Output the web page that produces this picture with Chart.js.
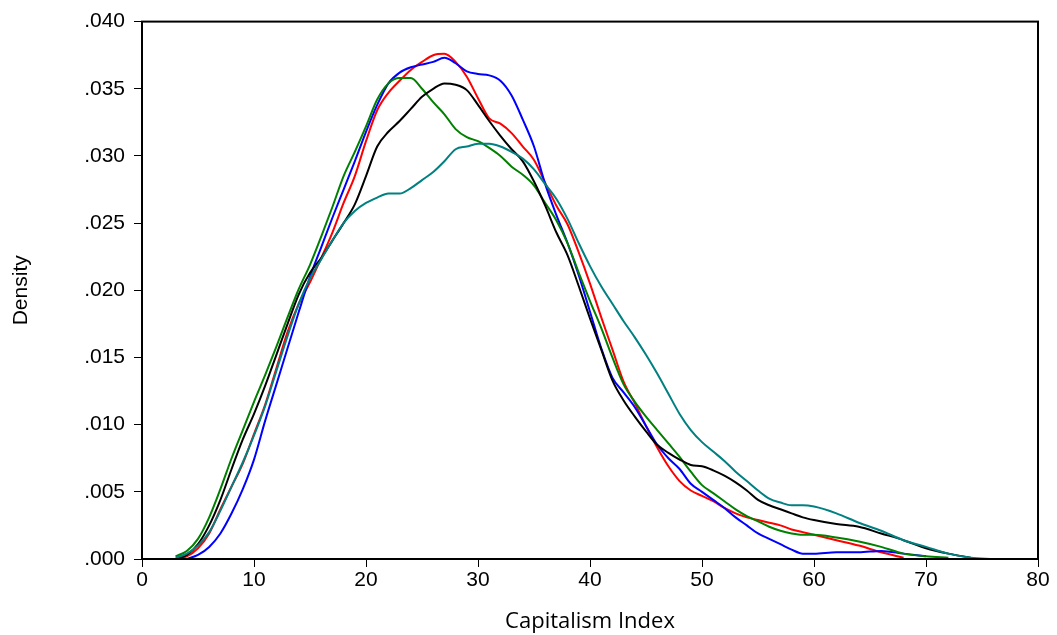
<!DOCTYPE html>
<html>
<head>
<meta charset="utf-8">
<script src="https://cdn.jsdelivr.net/npm/chart.js@4"></script>
<style>
  html, body { margin: 0; padding: 0; background: #fff; }
  #wrap { width: 1057px; height: 635px; position: relative; }
</style>
</head>
<body>
<div id="wrap"><canvas id="chart"></canvas></div>
<script>
// x grid of the density estimates (Capitalism Index)
const xValues = [2,3,4,5,6,7,8,9,10,11,12,13,14,15,16,17,18,19,20,21,22,23,24,25,26,27,28,29,30,
  31,32,33,34,35,36,37,38,39,40,41,42,43,44,45,46,47,48,49,50,51,52,53,54,55,56,57,58,59,60,
  62,64,66,68,70,72,74,76];

const blackSeries = [null,0.0000,0.0003,0.0011,0.0025,0.0044,0.0067,0.0089,0.0108,0.0129,0.0152,0.0175,0.0197,0.0213,
  0.0224,0.0237,0.0250,0.0264,0.0285,0.0307,0.0318,0.0326,0.0335,0.0344,0.0350,0.0354,0.0353,0.0349,0.0338,
  0.0326,0.0315,0.0305,0.0296,0.0281,0.0263,0.0243,0.0226,0.0203,0.0179,0.0156,0.0133,0.0118,0.0106,0.0095,
  0.0085,0.0079,0.0074,0.0070,0.0069,0.0066,0.0062,0.0057,0.0051,0.0044,0.0040,0.0037,0.0034,0.0031,0.0029,
  0.0026,0.0024,0.0019,0.0014,0.0008,0.0004,0.0001,null];

const blueSeries = [null,null,0.0000,0.0003,0.0009,0.0019,0.0034,0.0052,0.0074,0.0103,0.0130,0.0157,0.0184,0.0210,
  0.0232,0.0254,0.0275,0.0296,0.0318,0.0338,0.0354,0.0362,0.0366,0.0368,0.0370,0.0373,0.0369,0.0363,0.0361,
  0.0360,0.0356,0.0345,0.0327,0.0307,0.0279,0.0256,0.0235,0.0211,0.0184,0.0157,0.0135,0.0124,0.0113,0.0099,
  0.0085,0.0075,0.0067,0.0056,0.0050,0.0044,0.0038,0.0031,0.0025,0.0019,0.0015,0.0011,0.0007,0.0004,0.0004,
  0.0005,0.0005,0.0006,0.0004,0.0002,null,null,null];

const redSeries = [null,0.0000,0.0002,0.0008,0.0019,0.0037,0.0054,0.0071,0.0093,0.0115,0.0142,0.0169,0.0190,0.0206,
  0.0224,0.0243,0.0265,0.0285,0.0311,0.0334,0.0347,0.0356,0.0364,0.0370,0.0375,0.0376,0.0370,0.0359,0.0343,
  0.0328,0.0324,0.0317,0.0307,0.0297,0.0280,0.0263,0.0249,0.0228,0.0205,0.0180,0.0156,0.0132,0.0116,0.0099,
  0.0083,0.0069,0.0058,0.0051,0.0047,0.0043,0.0038,0.0034,0.0031,0.0029,0.0027,0.0025,0.0022,0.0020,0.0018,
  0.0014,0.0010,0.0005,0.0001,null,null,null,null];

const greenSeries = [null,0.0002,0.0006,0.0015,0.0031,0.0052,0.0075,0.0096,0.0117,0.0137,0.0158,0.0180,0.0201,0.0219,
  0.0240,0.0262,0.0285,0.0303,0.0322,0.0342,0.0354,0.0358,0.0358,0.0350,0.0340,0.0331,0.0320,0.0314,0.0311,
  0.0306,0.0300,0.0292,0.0286,0.0278,0.0265,0.0252,0.0235,0.0213,0.0192,0.0172,0.0150,0.0130,0.0117,0.0106,
  0.0096,0.0086,0.0076,0.0065,0.0055,0.0049,0.0043,0.0037,0.0032,0.0028,0.0024,0.0021,0.0019,0.0018,0.0018,
  0.0016,0.0013,0.0009,0.0004,0.0002,0.0001,null,null];

const tealSeries = [null,0.0001,0.0004,0.0010,0.0020,0.0036,0.0054,0.0072,0.0092,0.0114,0.0140,0.0166,0.0190,0.0209,
  0.0223,0.0237,0.0250,0.0259,0.0265,0.0269,0.0272,0.0272,0.0276,0.0282,0.0288,0.0296,0.0305,0.0307,0.0309,
  0.0309,0.0307,0.0303,0.0298,0.0290,0.0279,0.0268,0.0253,0.0235,0.0218,0.0203,0.0190,0.0177,0.0165,0.0152,
  0.0138,0.0123,0.0108,0.0096,0.0087,0.0080,0.0073,0.0065,0.0058,0.0051,0.0045,0.0042,0.0040,0.0040,0.0039,
  0.0034,0.0027,0.0021,0.0014,0.0009,0.0004,0.0001,0.0000];

const xTicks = [0, 10, 20, 30, 40, 50, 60, 70, 80];
const yTicks = [0, 0.005, 0.010, 0.015, 0.020, 0.025, 0.030, 0.035, 0.040];

const arial = "'Liberation Sans', Arial, sans-serif";

function toPoints(ys) {
  return xValues.map((x, i) => ({ x: x, y: ys[i] }));
}

function line(label, ys, color) {
  return {
    label: label,
    data: toPoints(ys),
    borderColor: color,
    borderWidth: 2,
    pointRadius: 0,
    fill: false,
    cubicInterpolationMode: 'monotone',
    spanGaps: false
  };
}

// box round the plot area
const frame = {
  id: 'frame',
  afterDraw(chart) {
    const a = chart.chartArea;
    const ctx = chart.ctx;
    ctx.save();
    ctx.strokeStyle = '#000';
    ctx.lineWidth = 2;
    ctx.strokeRect(a.left, a.top, a.right - a.left, a.bottom - a.top);
    ctx.restore();
  }
};

const ctx = document.getElementById('chart').getContext('2d');
new Chart(ctx, {
  type: 'line',
  data: {
    datasets: [
      line('teal', tealSeries, '#008080'),
      line('black', blackSeries, '#000000'),
      line('green', greenSeries, '#008000'),
      line('blue', blueSeries, '#0000ff'),
      line('red', redSeries, '#ff0000')
    ]
  },
  options: {
    responsive: true,
    maintainAspectRatio: false,
    animation: false,
    layout: { padding: { top: 20, right: 19, left: 0, bottom: 0 } },
    plugins: {
      legend: { display: false },
      tooltip: { enabled: false }
    },
    scales: {
      x: {
        type: 'linear',
        min: 0,
        max: 80,
        afterBuildTicks: (scale) => { scale.ticks = xTicks.map(v => ({ value: v })); },
        afterFit: (scale) => { scale.height = 76; },
        grid: { display: true, drawOnChartArea: false, drawTicks: true, tickLength: 8, color: '#000', lineWidth: 1 },
        border: { display: true, color: '#000', width: 2 },
        ticks: {
          color: '#000',
          padding: 1,
          maxRotation: 0,
          font: { family: arial, size: 21 }
        },
        title: {
          display: true,
          text: 'Capitalism Index',
          color: '#000',
          padding: { top: 1, bottom: 0 },
          font: { family: "'Open Sans', sans-serif", size: 22 }
        }
      },
      y: {
        type: 'linear',
        min: 0,
        max: 0.04,
        afterBuildTicks: (scale) => { scale.ticks = yTicks.map(v => ({ value: v })); },
        afterFit: (scale) => { scale.width = 142; },
        grid: { display: true, drawOnChartArea: false, drawTicks: true, tickLength: 8, color: '#000', lineWidth: 1 },
        border: { display: true, color: '#000', width: 2 },
        ticks: {
          color: '#000',
          padding: 9,
          font: { family: arial, size: 21 },
          callback: (v) => v.toFixed(3).replace(/^0/, '')
        },
        title: {
          display: true,
          text: 'Density',
          color: '#000',
          padding: { top: 9, bottom: 0 },
          font: { family: arial, size: 21 }
        }
      }
    }
  },
  plugins: [frame]
});
</script>
</body>
</html>
